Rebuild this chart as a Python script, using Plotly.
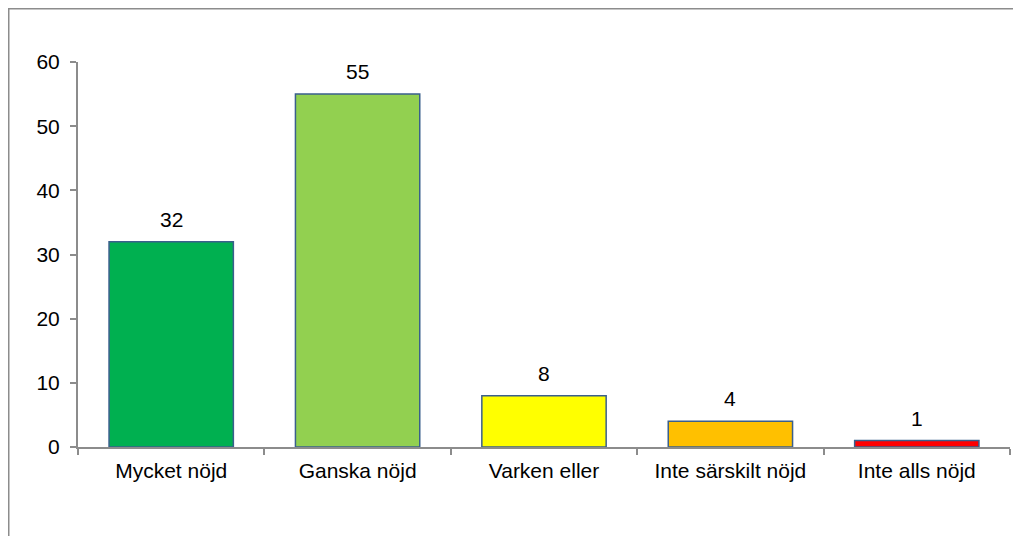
import plotly.graph_objects as go

categories = ["Mycket nöjd", "Ganska nöjd", "Varken eller", "Inte särskilt nöjd", "Inte alls nöjd"]
values = [32, 55, 8, 4, 1]
colors = ["#00B050", "#92D050", "#FFFF00", "#FFC000", "#FF0000"]
y_ticks = [0, 10, 20, 30, 40, 50, 60]

# page body has an 8px margin; figure sized to fill the remaining window
W, H = 1013, 528
L, R, T, B = 70, 11, 54, 89
pw = W - L - R
ph = H - T - B
FONT = "Liberation Sans, Arial"
FS = 21

fig = go.Figure()
fig.add_trace(go.Bar(
    x=categories, y=values,
    marker=dict(color=colors, line=dict(color="#3A5F8C", width=1.5)),
    width=0.667,
    hoverinfo="skip",
))

for c, v in zip(categories, values):
    fig.add_annotation(x=c, y=v, text=str(v), showarrow=False,
                       yanchor="bottom", yshift=9,
                       font=dict(family=FONT, size=FS, color="#000000"))

fig.add_shape(type="rect", xref="paper", yref="paper",
              x0=(0.5 - L) / pw, x1=(W + 20 - L) / pw,
              y0=(H - B - (H + 20)) / ph, y1=(H - B - 0.5) / ph,
              line=dict(color="#8C8C8C", width=2), fillcolor="rgba(0,0,0,0)", layer="below")

fig.update_layout(
    width=W, height=H,
    margin=dict(l=L, r=R, t=T, b=B, autoexpand=False),
    paper_bgcolor="white", plot_bgcolor="white",
    showlegend=False,
    font=dict(family=FONT, size=FS, color="#000000"),
    bargap=0.333,
)
fig.update_xaxes(showline=True, linecolor="#8C8C8C", linewidth=2,
                 ticks="outside", ticklen=6, tickcolor="#8C8C8C", tickwidth=2,
                 tickson="boundaries", showgrid=False, ticklabelstandoff=4,
                 tickfont=dict(size=FS))
fig.update_yaxes(range=[0, 60], tickvals=y_ticks, showline=True, linecolor="#8C8C8C", linewidth=2,
                 ticks="outside", ticklen=6, tickcolor="#8C8C8C", tickwidth=2,
                 showgrid=False, zeroline=False, ticklabelstandoff=6,
                 tickfont=dict(size=FS))

fig.write_html("out.html")
